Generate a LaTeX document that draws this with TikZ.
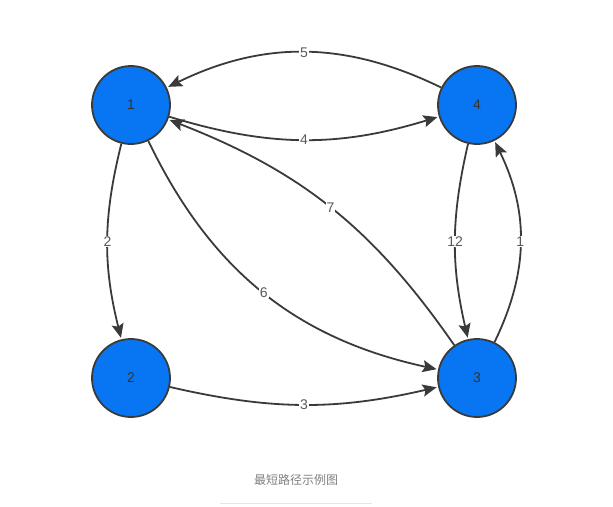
\documentclass[tikz,border=0pt]{standalone}
\usepackage{fontspec}
\setmainfont{Liberation Sans}
\newfontfamily\cjk{Noto Sans CJK SC}
\usetikzlibrary{arrows.meta,positioning}
\definecolor{nodeblue}{RGB}{8,118,243}
\definecolor{edgegrey}{RGB}{58,58,58}

\begin{document}
\begin{tikzpicture}[x=1pt, y=-1pt, node distance=346pt,
    vertex/.style={circle, draw=edgegrey, line width=1.8pt, fill=nodeblue, minimum size=78pt, inner sep=0pt, font=\fontsize{14}{14}\selectfont, text=black!80},
    link/.style={-{Stealth[length=14pt,width=12pt,inset=2.5pt]}, line width=1.8pt, draw=edgegrey, shorten >=1.5pt},
    weight/.style={fill=white, inner sep=1pt, font=\fontsize{14}{14}\selectfont, text=black!65}]
    \useasboundingbox (0,0) rectangle (613,506);
    \node [vertex] (one) at (131,105) {1};
    \node [vertex, right of=one] (four) {4};
    \node [vertex, below of=one, node distance=273pt] (two) {2};
    \node [vertex, below of=four, node distance=273pt] (three) {3};
    \draw[link] (four) to[bend right=26] node[weight] {5} (one);
    \draw[link] (one) to[bend right=17] node[weight] {4} (four);
    \draw[link] (one) to[bend right=14] node[weight] {2} (two);
    \draw[link] (two) to[bend right=13] node[weight] {3} (three);
    \draw[link] (one) to[bend right=26] node[weight] {6} (three);
    \draw[link] (three) to[bend right=17] node[weight] {7} (one);
    \draw[link] (four) to[bend right=13] node[weight] {12} (three);
    \draw[link] (three) to[bend right=26] node[weight] {1} (four);
    \node [font=\cjk\fontsize{12}{12}\selectfont, text=black!50] (caption) at (296,480) {最短路径示例图};
    \draw[black!10, line width=0.8pt] (220,503) -- (372,503);
\end{tikzpicture}
\end{document}
